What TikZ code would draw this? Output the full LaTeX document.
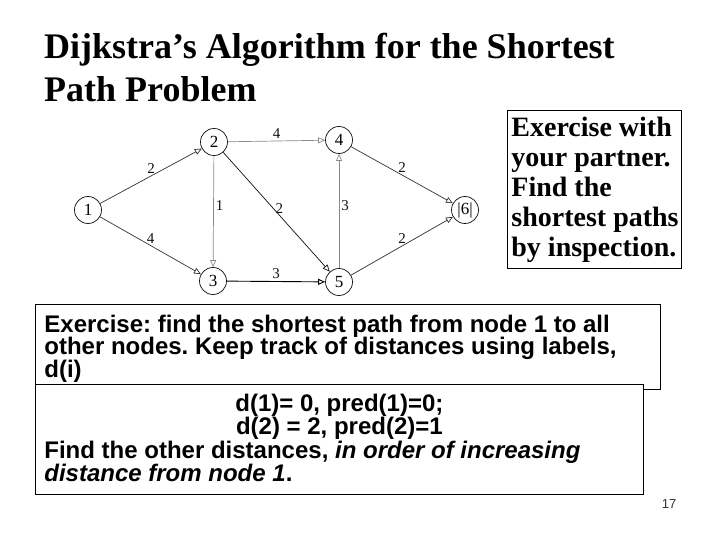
\documentclass[tikz,border=0pt]{standalone}
\usepackage{fontspec}
\setmainfont{Liberation Serif}
\newfontfamily\arialfont{Liberation Sans}
\usetikzlibrary{arrows.meta,positioning}
\definecolor{Ink}{HTML}{111111}
\definecolor{ArcDark}{HTML}{333333}
\definecolor{ArcGrey}{HTML}{8A8A8A}
\definecolor{PageNum}{HTML}{333333}

\begin{document}
\begin{tikzpicture}[x=1pt,y=-1pt,
  vertex/.style={circle,draw=Ink,line width=0.7pt,minimum size=27pt,inner sep=0pt,font=\fontsize{17}{17}\selectfont},
  weight/.style={inner sep=2pt,font=\fontsize{15}{15}\selectfont,text=Ink},
  arc/.style={draw=ArcDark,line width=0.7pt,-{Triangle[open,length=7pt,width=6pt]}},
  faint/.style={arc,draw=ArcGrey},
  panel/.style={draw=black,line width=0.8pt,fill=white,anchor=north west,inner xsep=9pt}
]
\useasboundingbox (0,0) rectangle (720,540);

% title
\node[anchor=north west,inner sep=0pt,align=left,font=\fontsize{36}{43}\selectfont\bfseries] (title) at (44,32)
  {\rule{0pt}{26pt}Dijkstra’s Algorithm for the Shortest\\Path Problem};

% network
\node[vertex] (n1) at (88,210) {1};
\node[vertex] (n2) at (214,142) {2};
\node[vertex] (n3) at (213,281) {3};
\node[vertex] (n4) at (339,140) {4};
\node[vertex] (n5) at (339,282) {5};
\node[vertex] (n6) at (465,210) {|6|};

\draw[arc] (n1) -- node[weight,above] {2} (n2);
\draw[arc] (n1) -- node[weight,above] {4} (n3);
\draw[faint] (n2) -- node[weight,above] {4} (n4);
\draw[faint] (n2) -- node[weight,right,pos=0.45] {1} (n3);
\draw[arc,draw=Ink] (n2) -- node[weight,right,pos=0.47] {2} (n5);
\draw[faint] (n5) -- node[weight,right,pos=0.55] {3} (n4);
\draw[arc,draw=black,line width=0.9pt] (n3) -- node[weight,above] {3} (n5);
\draw[arc] (n4) -- node[weight,above] {2} (n6);
\draw[arc] (n5) -- node[weight,above] {2} (n6);

% exercise hint
\node[panel,inner xsep=4pt,inner ysep=5pt] (task) at (507,110) {
  \begin{minipage}[t][148pt][t]{166pt}\raggedright
  \fontsize{28}{30}\selectfont\bfseries
  \rule{0pt}{21pt}\mbox{Exercise with}\\\mbox{your partner.}\\\mbox{Find the}\\\mbox{shortest paths}\\\mbox{by inspection.}
  \end{minipage}
};

% instructions
\node[panel,inner ysep=4pt] (ask) at (35,304) {
  \begin{minipage}[t][77pt][t]{607pt}\raggedright\frenchspacing
  \arialfont\fontsize{24}{22.5}\selectfont\bfseries
  \rule{0pt}{24pt}Exercise: find the shortest path from node 1 to all\\
  other nodes. Keep track of distances using labels,\\
  d(i)
  \end{minipage}
};
\node[panel,inner ysep=5pt] (start) at (35,384) {
  \begin{minipage}[t][100pt][t]{590pt}\frenchspacing
  \arialfont\fontsize{24}{23.3}\selectfont\bfseries
  {\centering\rule{0pt}{22pt}d(1)= 0, pred(1)=0;\\
  d(2) = 2, pred(2)=1\par}
  \raggedright
  Find the other distances, \textit{in order of increasing}\\
  \textit{distance from node 1}.
  \end{minipage}
};

\node[text=PageNum,font=\arialfont\fontsize{13}{13}\selectfont] (page) at (669,504) {17};
\end{tikzpicture}
\end{document}
